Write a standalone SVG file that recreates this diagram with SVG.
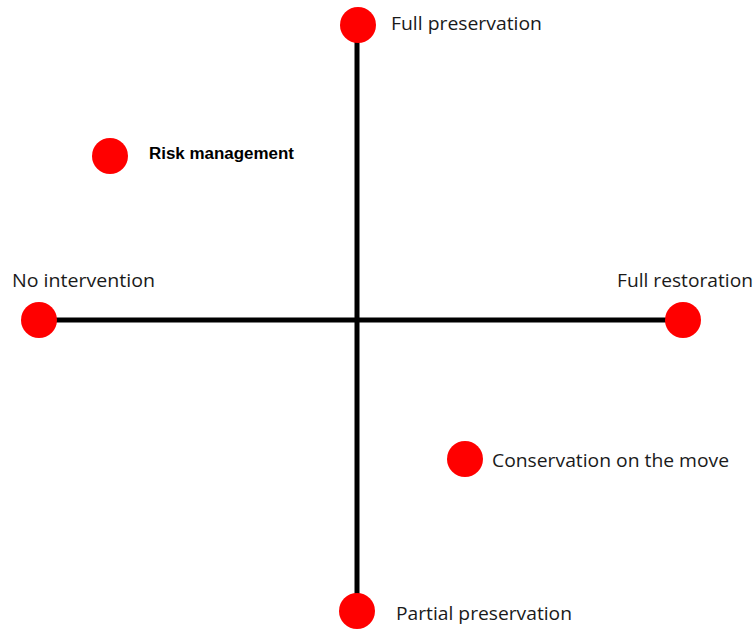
<svg xmlns="http://www.w3.org/2000/svg" width="756" height="629" viewBox="0 0 756 629">
  <style>
    .axis { stroke: #000; stroke-width: 5; fill: none; }
    .dot { fill: #ff0000; }
    .lbl { font-family: "Open Sans", "Noto Sans", sans-serif; font-size: 18px; fill: #1a1a1a; }
    .bold { font-family: "Liberation Sans", Arial, sans-serif; font-size: 16px; font-weight: bold; fill: #000; }
  </style>
  <rect width="756" height="629" fill="#fff"/>
  <g id="connectors">
    <line class="axis" x1="357" y1="25" x2="357" y2="611"/>
    <line class="axis" x1="39" y1="320" x2="683" y2="320"/>
  </g>
  <g id="full-preservation">
    <circle class="dot" cx="358" cy="25" r="18"/>
    <text class="lbl" x="391" y="30" textLength="151" lengthAdjust="spacingAndGlyphs">Full preservation</text>
  </g>
  <g id="risk-management">
    <circle class="dot" cx="110" cy="156" r="18"/>
    <text class="bold" x="149" y="159" textLength="145" lengthAdjust="spacingAndGlyphs">Risk management</text>
  </g>
  <g id="no-intervention">
    <circle class="dot" cx="39" cy="320" r="18"/>
    <text class="lbl" x="12" y="287" textLength="143" lengthAdjust="spacingAndGlyphs">No intervention</text>
  </g>
  <g id="full-restoration">
    <circle class="dot" cx="683" cy="320" r="18"/>
    <text class="lbl" x="617" y="287" textLength="136" lengthAdjust="spacingAndGlyphs">Full restoration</text>
  </g>
  <g id="conservation-on-the-move">
    <circle class="dot" cx="465" cy="459" r="18"/>
    <text class="lbl" x="492" y="467" textLength="237" lengthAdjust="spacingAndGlyphs">Conservation on the move</text>
  </g>
  <g id="partial-preservation">
    <circle class="dot" cx="357" cy="611" r="18"/>
    <text class="lbl" x="396" y="620" textLength="176" lengthAdjust="spacingAndGlyphs">Partial preservation</text>
  </g>
</svg>
